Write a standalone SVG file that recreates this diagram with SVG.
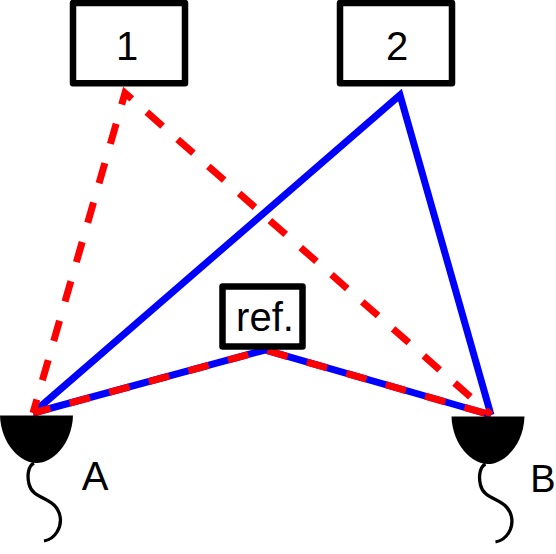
<svg xmlns="http://www.w3.org/2000/svg" width="556" height="554" viewBox="0 0 556 554">
<style>
.box{fill:#fff;stroke:#000;stroke-width:6.5;stroke-linejoin:round}
.t{font-family:"Liberation Sans",Arial,sans-serif;fill:#000;text-anchor:middle}
.blue{fill:none;stroke:#00f;stroke-width:7;stroke-linejoin:miter}
.red{fill:none;stroke:#f00;stroke-width:7;stroke-linejoin:miter;stroke-dasharray:21 20}
.wire{fill:none;stroke:#000;stroke-width:3.300}
</style>
<defs>
<g id="det">
<path d="M0 415.5H73C72 445 52 463 36.500 463C21 463 1 445 0 415.500Z" fill="#000"/>
<path class="wire" d="M34 463C28 466 27 476 29 484C32 497 46 497 54 505C62 513 62 524 57 532C54 537 49 540 44 541"/>
</g>
</defs>
<g id="connectors">
<path class="blue" d="M33 413L400 95L491 415"/>
<path class="blue" d="M33 413L265 350L491 415"/>
<path class="red" stroke-dashoffset="7" d="M33 413L125 93L491 415"/>
<path class="red" stroke-dashoffset="3" d="M33 413L265 350L491 415"/>
</g>
<g id="node-1"><rect class="box" x="73" y="3" width="112" height="80.300"/><text class="t" x="127" y="60" font-size="40">1</text></g>
<g id="node-2"><rect class="box" x="340" y="3" width="112" height="80.300"/><text class="t" x="397" y="60" font-size="40">2</text></g>
<g id="node-ref"><rect class="box" x="222.500" y="286.500" width="80" height="60"/><text class="t" x="265" y="331" font-size="40">ref.</text></g>
<g id="detector-A"><use href="#det"/><text class="t" x="95" y="490" font-size="40">A</text></g>
<g id="detector-B"><use href="#det" x="451.500" y="1"/><text class="t" x="543" y="492" font-size="38">B</text></g>
</svg>
